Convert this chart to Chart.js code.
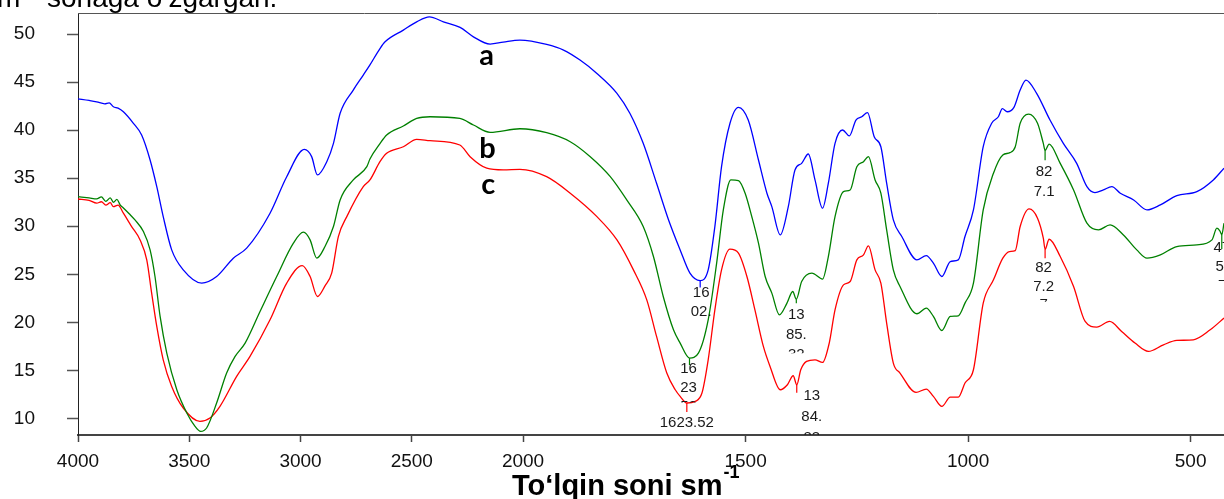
<!DOCTYPE html>
<html>
<head>
<meta charset="utf-8">
<script src="https://cdn.jsdelivr.net/npm/chart.js"></script>
<style>
  html, body { margin: 0; padding: 0; background: #fff; overflow: hidden; }
  canvas { display: block; }
</style>
</head>
<body>
<canvas id="irChart" width="1224" height="499"></canvas>
<script>
// wavenumbers (cm-1) and transmittance
const waveA = [4000, 3950, 3916, 3880, 3860, 3841, 3820, 3796, 3751, 3714, 3676, 3646, 3617, 3579, 3527, 3444, 3377, 3302, 3242, 3137, 3062, 2983, 2950, 2924, 2882, 2852, 2822, 2763, 2718, 2688, 2643, 2620, 2538, 2478, 2421, 2358, 2283, 2223, 2148, 2089, 2014, 1947, 1909, 1872, 1834, 1789, 1760, 1730, 1700, 1673, 1647, 1625, 1602, 1584, 1569, 1554, 1535, 1516, 1494, 1471, 1452, 1441, 1422, 1404, 1389, 1374, 1359, 1344, 1327, 1314, 1299, 1282, 1267, 1252, 1239, 1226, 1211, 1196, 1183, 1168, 1149, 1115, 1094, 1078, 1059, 1040, 1022, 1007, 988, 966, 947, 932, 923, 912, 897, 883, 870, 846, 816, 786, 756, 733, 715, 696, 677, 658, 628, 598, 568, 531, 486, 449, 425];
const valueA = [43.27, 43.1, 42.96, 42.75, 42.85, 42.44, 42.3, 41.92, 40.72, 39.5, 36.9, 34.12, 31.0, 27.54, 25.46, 24.08, 24.77, 26.68, 27.72, 31.36, 35.16, 38.0, 37.25, 35.34, 36.72, 38.63, 41.76, 44.18, 45.74, 46.8, 48.5, 49.2, 50.42, 51.28, 51.8, 51.28, 50.7, 49.72, 48.96, 49.17, 49.38, 48.93, 48.34, 47.3, 45.91, 43.84, 41.76, 38.63, 34.47, 30.66, 27.54, 25.12, 24.35, 25.46, 29.97, 36.2, 40.72, 42.38, 41.06, 36.9, 33.44, 32.04, 29.1, 32.04, 35.86, 36.55, 37.52, 34.82, 31.88, 34.48, 38.63, 40.02, 39.4, 41.06, 41.4, 41.82, 39.32, 38.28, 34.48, 30.66, 28.93, 26.5, 26.95, 26.16, 24.77, 26.33, 26.5, 28.93, 31.7, 38.28, 40.72, 41.4, 42.24, 41.92, 42.38, 44.18, 45.22, 43.84, 41.06, 38.63, 36.55, 34.12, 33.5, 33.78, 34.12, 33.44, 32.74, 31.7, 32.22, 33.19, 33.6, 34.82, 36.04];

const waveB = [4000, 3950, 3916, 3895, 3875, 3855, 3841, 3825, 3810, 3796, 3770, 3744, 3706, 3676, 3654, 3631, 3601, 3556, 3511, 3474, 3449, 3422, 3377, 3332, 3294, 3249, 3182, 3107, 3032, 2987, 2957, 2927, 2890, 2852, 2822, 2763, 2702, 2688, 2643, 2613, 2538, 2478, 2418, 2284, 2223, 2148, 2014, 1947, 1894, 1849, 1804, 1767, 1730, 1707, 1685, 1662, 1647, 1626, 1606, 1584, 1565, 1550, 1533, 1516, 1501, 1486, 1471, 1456, 1441, 1424, 1407, 1394, 1386, 1374, 1351, 1327, 1314, 1299, 1280, 1265, 1250, 1235, 1224, 1209, 1196, 1183, 1168, 1153, 1115, 1094, 1078, 1059, 1040, 1022, 1007, 988, 966, 943, 922, 906, 894, 883, 864, 844, 831, 827, 818, 793, 763, 733, 707, 681, 651, 621, 598, 568, 531, 486, 452, 441, 434, 430, 425];
const valueB = [33.08, 32.95, 32.85, 33.05, 32.6, 32.95, 32.5, 32.8, 32.2, 31.9, 31.3, 30.66, 29.45, 27.54, 24.77, 20.61, 16.8, 12.98, 10.56, 9.17, 8.65, 9.0, 11.6, 14.72, 16.45, 17.84, 21.13, 24.77, 28.24, 29.38, 28.58, 26.68, 27.89, 29.97, 32.74, 34.82, 36.2, 37.0, 38.6, 39.5, 40.44, 41.23, 41.4, 41.23, 40.54, 39.78, 40.15, 39.74, 38.8, 37.24, 35.16, 32.74, 29.97, 26.85, 22.69, 19.22, 17.84, 16.28, 16.8, 20.26, 26.16, 31.7, 34.82, 34.75, 33.44, 31.0, 28.24, 24.77, 23.04, 20.78, 22.0, 23.21, 22.4, 24.25, 25.12, 24.5, 26.85, 31.0, 33.6, 33.78, 36.2, 36.72, 37.24, 34.82, 33.44, 29.62, 25.46, 23.73, 20.89, 21.48, 20.61, 19.15, 20.61, 20.68, 22.0, 24.08, 31.7, 35.52, 37.42, 37.66, 38.28, 40.72, 41.68, 40.72, 38.63, 37.9, 38.56, 36.55, 33.78, 30.32, 29.62, 30.14, 29.1, 27.54, 26.68, 27.02, 27.89, 28.06, 28.58, 29.8, 29.5, 29.1, 30.32];

const waveC = [4000, 3950, 3916, 3895, 3875, 3855, 3841, 3820, 3796, 3759, 3721, 3691, 3669, 3646, 3617, 3579, 3527, 3452, 3407, 3362, 3287, 3227, 3137, 3062, 2992, 2957, 2924, 2890, 2860, 2830, 2792, 2718, 2688, 2643, 2613, 2538, 2478, 2418, 2284, 2238, 2163, 2089, 2014, 1947, 1894, 1834, 1789, 1752, 1722, 1700, 1677, 1658, 1647, 1632, 1613, 1598, 1584, 1569, 1554, 1535, 1516, 1497, 1479, 1460, 1445, 1422, 1406, 1393, 1385, 1376, 1363, 1344, 1327, 1312, 1299, 1280, 1265, 1250, 1235, 1224, 1209, 1196, 1183, 1168, 1153, 1117, 1094, 1078, 1059, 1040, 1022, 1007, 988, 966, 943, 922, 907, 894, 883, 863, 844, 831, 827, 818, 793, 763, 737, 711, 682, 655, 625, 595, 561, 531, 494, 456, 425];
const valueC = [32.84, 32.7, 32.4, 32.55, 32.2, 32.45, 32.04, 32.2, 31.36, 29.97, 28.58, 26.5, 23.04, 19.57, 16.1, 13.33, 11.08, 9.69, 10.04, 11.25, 14.37, 16.45, 20.26, 24.08, 25.91, 24.77, 22.69, 23.8, 25.12, 28.93, 31.0, 34.12, 34.82, 36.72, 37.6, 38.28, 39.05, 38.91, 38.46, 37.24, 36.04, 35.86, 35.93, 35.16, 33.44, 31.0, 28.58, 25.46, 22.34, 18.53, 14.72, 12.98, 12.29, 11.6, 11.77, 12.64, 16.1, 21.3, 25.46, 27.61, 27.2, 24.77, 21.3, 17.49, 15.41, 12.98, 13.5, 14.44, 13.5, 15.06, 15.93, 16.1, 15.82, 17.84, 21.3, 23.9, 24.25, 26.5, 27.02, 27.96, 25.46, 24.08, 19.92, 15.76, 14.72, 12.7, 13.05, 12.29, 11.25, 12.22, 12.22, 13.68, 15.06, 22.0, 24.42, 26.68, 27.37, 27.47, 29.97, 31.8, 30.84, 28.76, 27.6, 28.65, 26.85, 23.73, 20.09, 19.5, 20.09, 19.05, 17.84, 16.97, 17.66, 18.11, 18.18, 19.22, 20.44];

const tickWaves = [4000, 3500, 3000, 2500, 2000, 1500, 1000, 500];
const tickLabels = ['4000', '3500', '3000', '2500', '2000', '1500', '1000', '500'];
const curveNames = ['a', 'b', 'c'];

const waves = [waveA, waveB, waveC];
const values = [valueA, valueB, valueC];
const colors = ['#0000ff', '#008000', '#ff0000'];
const FONT = '"Liberation Sans", Arial, sans-serif';

// the spectrometer doubles the scale below 2000 cm-1
const toAxis = (w) => w >= 2000 ? (4000 - w) / 2 : 1000 + (2000 - w);

// letter placement (wavenumber, value of the baseline)
const namePos = [[2164, 46.78], [2160, 37.1], [2156, 33.36]];

// peak picks printed by the instrument software
const peakMarks = [
  { set: 0, wave: 1602, len: 7, dx: 1, dy: 12.8, step: 18.6, clip: 43.5, lines: ['16', '02.', '17'] },
  { set: 1, wave: 1626, len: 7, dx: -1, dy: 11.2, step: 19, clip: 44.5, lines: ['16', '23', '52'] },
  { set: 2, wave: 1632, len: 9, dx: 0, dy: 20.3, step: 19, clip: 40, lines: ['1623.52'] },
  { set: 1, wave: 1386, len: 4, dx: 0, dy: 15.7, step: 20, clip: 54, lines: ['13', '85.', '32'] },
  { set: 2, wave: 1385, len: 8, dx: 15, dy: 10.9, step: 21, clip: 60, lines: ['13', '84.', '83'] },
  { set: 1, wave: 827, len: 10, dx: -1, dy: 21.3, step: 20, clip: 50.6, lines: ['82', '7.1'] },
  { set: 2, wave: 827, len: 9, dx: -1.5, dy: 19, step: 18.4, clip: 52.5, lines: ['82', '7.2', '7'] },
  { set: 1, wave: 430, len: 14, dx: 0, dy: 13.1, step: 18.7, clip: 46, lines: ['47', '5.', '5'] }
];

const datasets = waves.map((ws, k) => ({
  label: curveNames[k],
  data: ws.map((w, i) => ({ x: toAxis(w), y: values[k][i] })),
  borderColor: colors[k],
  borderWidth: 1.3,
  pointRadius: 0,
  cubicInterpolationMode: 'monotone',
  fill: false
}));

const decorations = {
  id: 'decorations',
  afterDatasetsDraw(chart) {
    const { ctx, chartArea, scales: { x, y } } = chart;
    ctx.save();
    // frame line on top
    ctx.strokeStyle = '#555';
    ctx.lineWidth = 1;
    ctx.beginPath();
    ctx.moveTo(chartArea.left, chartArea.top + 0.5);
    ctx.lineTo(chartArea.right, chartArea.top + 0.5);
    ctx.stroke();

    ctx.font = '15px ' + FONT;
    ctx.textAlign = 'center';
    ctx.textBaseline = 'middle';
    peakMarks.forEach(m => {
      const v = values[m.set][waves[m.set].indexOf(m.wave)];
      const px = x.getPixelForValue(toAxis(m.wave));
      const py = y.getPixelForValue(v);
      ctx.strokeStyle = colors[m.set];
      ctx.lineWidth = 1.2;
      ctx.beginPath();
      ctx.moveTo(px, py);
      ctx.lineTo(px, py + m.len);
      ctx.stroke();
      ctx.save();
      ctx.beginPath();
      const bottom = Math.min(py + m.clip, chartArea.bottom);
      ctx.rect(px - 60, py, 120, bottom - py);
      ctx.clip();
      ctx.fillStyle = '#1a1a1a';
      m.lines.forEach((t, i) => ctx.fillText(t, px + m.dx, py + m.dy + i * m.step));
      ctx.restore();
    });

    ctx.font = 'bold 29px Lato, "Liberation Sans", sans-serif';
    ctx.textBaseline = 'alphabetic';
    ctx.fillStyle = '#000';
    namePos.forEach((p, k) => {
      ctx.fillText(curveNames[k], x.getPixelForValue(toAxis(p[0])), y.getPixelForValue(p[1]));
    });
    ctx.restore();
  },
  afterDraw(chart) {
    const { ctx } = chart;
    ctx.save();
    ctx.fillStyle = '#000';
    ctx.textAlign = 'left';
    ctx.textBaseline = 'alphabetic';
    // axis title with superscript
    ctx.font = 'bold 29px ' + FONT;
    const title = 'To‘lqin soni sm';
    ctx.fillText(title, 512, 495);
    const tw = ctx.measureText(title).width;
    ctx.font = 'bold 18px ' + FONT;
    ctx.fillText('-1', 512 + tw + 1, 478);
    // line of page text cut at the top
    ctx.font = '28px ' + FONT;
    ctx.fillText('m', -3, 7);
    ctx.font = '17px ' + FONT;
    ctx.fillText('-1', 21, -5);
    ctx.font = '28px ' + FONT;
    ctx.fillText('sohaga o‘zgargan.', 47, 7);
    ctx.restore();
  }
};

new Chart(document.getElementById('irChart'), {
  type: 'line',
  data: { datasets: datasets },
  options: {
    responsive: false,
    animation: false,
    events: [],
    layout: { padding: { top: 13, right: 0, bottom: 0, left: 0 } },
    plugins: { legend: { display: false }, tooltip: { enabled: false } },
    scales: {
      x: {
        type: 'linear',
        min: 0,
        max: 2575,
        afterBuildTicks: (s) => { s.ticks = tickWaves.map(w => ({ value: toAxis(w) })); },
        afterFit: (s) => { s.height = 64; s.paddingLeft = 0; s.paddingRight = 0; },
        ticks: {
          autoSkip: false,
          maxRotation: 0,
          padding: 8,
          color: '#111',
          font: { size: 19, family: FONT },
          callback: (v, i) => tickLabels[i]
        },
        grid: { drawOnChartArea: false, drawTicks: true, tickLength: 7, tickColor: '#444', tickWidth: 1.5 },
        border: { display: true, color: '#444', width: 2 }
      },
      y: {
        min: 8.27,
        max: 52.2,
        afterFit: (s) => { s.width = 78; s.paddingTop = 0; s.paddingBottom = 0; },
        ticks: {
          stepSize: 5,
          includeBounds: false,
          padding: 32,
          color: '#111',
          font: { size: 19, family: FONT }
        },
        grid: { drawOnChartArea: false, drawTicks: true, tickLength: 11, tickColor: '#555', tickWidth: 1.5 },
        border: { display: true, color: '#222', width: 1 }
      }
    }
  },
  plugins: [decorations]
});
</script>
</body>
</html>
